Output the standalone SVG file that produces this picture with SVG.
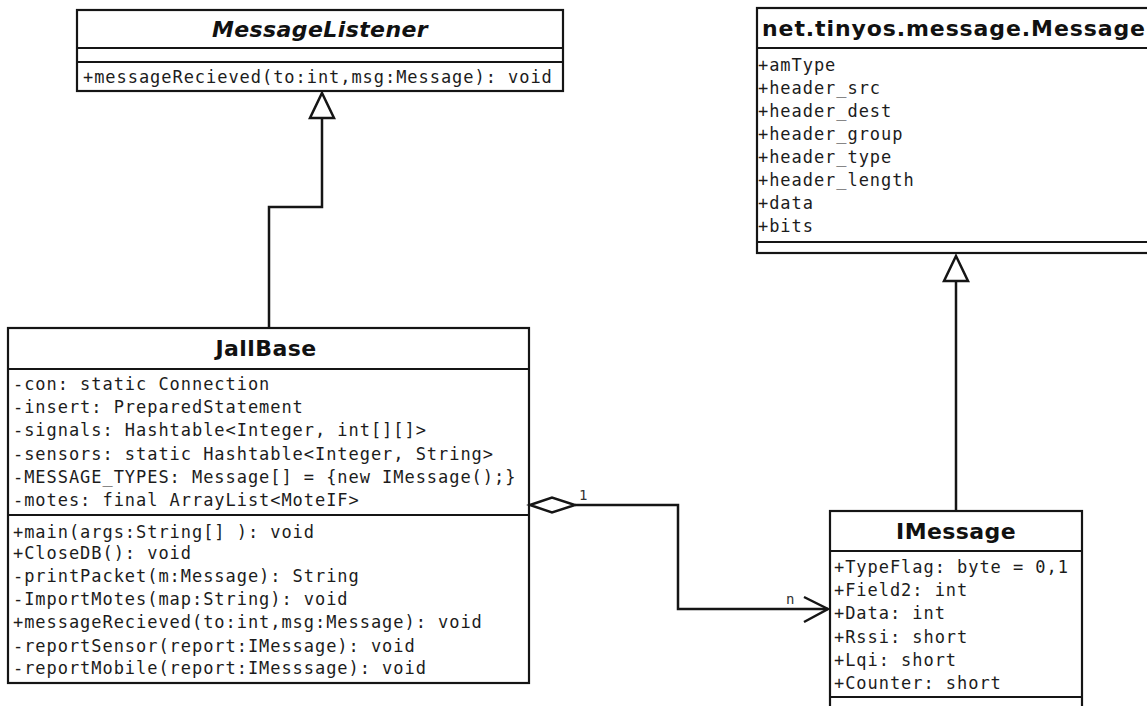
<svg xmlns="http://www.w3.org/2000/svg" width="1147" height="706" viewBox="0 0 1147 706">
  <defs>
    <style>
      .box { fill: #ffffff; stroke: #151515; stroke-width: 2.2; }
      .sep { stroke: #151515; stroke-width: 2.2; fill: none; }
      .title { font-family: "DejaVu Sans", "Liberation Sans", sans-serif; font-weight: bold; font-size: 22px; fill: #111; text-anchor: middle; letter-spacing: 0.4px; }
      .abstract { font-style: italic; }
      .member { font-family: "DejaVu Sans Mono", "Liberation Mono", monospace; font-size: 17px; fill: #1c1c1c; letter-spacing: 0.95px; }
      .edge { stroke: #151515; stroke-width: 2.5; fill: none; }
      .head { stroke: #151515; stroke-width: 2.5; fill: #ffffff; stroke-linejoin: miter; }
      .mult { font-family: "DejaVu Sans Mono", "Liberation Mono", monospace; font-size: 14px; fill: #333; }
    </style>
  </defs>
  <rect width="1147" height="706" fill="#ffffff"/>

  <!-- interface MessageListener -->
  <g id="MessageListener">
    <rect class="box" x="77" y="10" width="486" height="81"/>
    <line class="sep" x1="77" y1="48" x2="563" y2="48"/>
    <line class="sep" x1="77" y1="62" x2="563" y2="62"/>
    <text class="title abstract" x="320" y="37">MessageListener</text>
    <text class="member" x="83" y="83">+messageRecieved(to:int,msg:Message): void</text>
  </g>

  <!-- net.tinyos.message.Message -->
  <g id="Message">
    <rect class="box" x="757" y="8" width="400" height="245"/>
    <line class="sep" x1="757" y1="48" x2="1157" y2="48"/>
    <line class="sep" x1="757" y1="242" x2="1157" y2="242"/>
    <text class="title" x="762" y="36" style="text-anchor:start;letter-spacing:0.9px">net.tinyos.message.Message</text>
    <text class="member" x="758" y="71">+amType</text>
    <text class="member" x="758" y="94">+header_src</text>
    <text class="member" x="758" y="117">+header_dest</text>
    <text class="member" x="758" y="140">+header_group</text>
    <text class="member" x="758" y="163">+header_type</text>
    <text class="member" x="758" y="186">+header_length</text>
    <text class="member" x="758" y="209">+data</text>
    <text class="member" x="758" y="232">+bits</text>
  </g>

  <!-- JallBase -->
  <g id="JallBase">
    <rect class="box" x="8" y="328" width="521" height="355"/>
    <line class="sep" x1="8" y1="369" x2="529" y2="369"/>
    <line class="sep" x1="8" y1="515" x2="529" y2="515"/>
    <text class="title" x="266" y="356">JallBase</text>
    <text class="member" x="13" y="390">-con: static Connection</text>
    <text class="member" x="13" y="413">-insert: PreparedStatement</text>
    <text class="member" x="13" y="436">-signals: Hashtable&lt;Integer, int[][]&gt;</text>
    <text class="member" x="13" y="460">-sensors: static Hashtable&lt;Integer, String&gt;</text>
    <text class="member" x="13" y="483">-MESSAGE_TYPES: Message[] = {new IMessage();}</text>
    <text class="member" x="13" y="506">-motes: final ArrayList&lt;MoteIF&gt;</text>
    <text class="member" x="13" y="538">+main(args:String[] ): void</text>
    <text class="member" x="13" y="559">+CloseDB(): void</text>
    <text class="member" x="13" y="582">-printPacket(m:Message): String</text>
    <text class="member" x="13" y="605">-ImportMotes(map:String): void</text>
    <text class="member" x="13" y="628">+messageRecieved(to:int,msg:Message): void</text>
    <text class="member" x="13" y="652">-reportSensor(report:IMessage): void</text>
    <text class="member" x="13" y="674">-reportMobile(report:IMesssage): void</text>
  </g>

  <!-- IMessage -->
  <g id="IMessage">
    <rect class="box" x="830" y="511" width="252" height="220"/>
    <line class="sep" x1="830" y1="551" x2="1082" y2="551"/>
    <line class="sep" x1="830" y1="697" x2="1082" y2="697"/>
    <text class="title" x="956" y="539">IMessage</text>
    <text class="member" x="834" y="573">+TypeFlag: byte = 0,1</text>
    <text class="member" x="834" y="596">+Field2: int</text>
    <text class="member" x="834" y="619">+Data: int</text>
    <text class="member" x="834" y="643">+Rssi: short</text>
    <text class="member" x="834" y="666">+Lqi: short</text>
    <text class="member" x="834" y="689">+Counter: short</text>
  </g>

  <!-- relations -->
  <g id="connectors">
    <!-- JallBase realizes MessageListener -->
    <path class="edge" d="M269,328 V207 H322 V118"/>
    <polygon class="head" points="322,93 334,118 310,118"/>
    <!-- IMessage extends Message -->
    <path class="edge" d="M956,511 V281"/>
    <polygon class="head" points="956,256 968,281 944,281"/>
    <!-- JallBase aggregates IMessage (1 to n) -->
    <path class="edge" d="M575,505 H678 V609 H828"/>
    <polygon class="head" points="530,505 552,497.5 575,505 552,512.5"/>
    <path class="edge" d="M804,597 L828,609 L804,622"/>
    <text class="mult" x="579" y="500">1</text>
    <text class="mult" x="786" y="604">n</text>
  </g>
</svg>
